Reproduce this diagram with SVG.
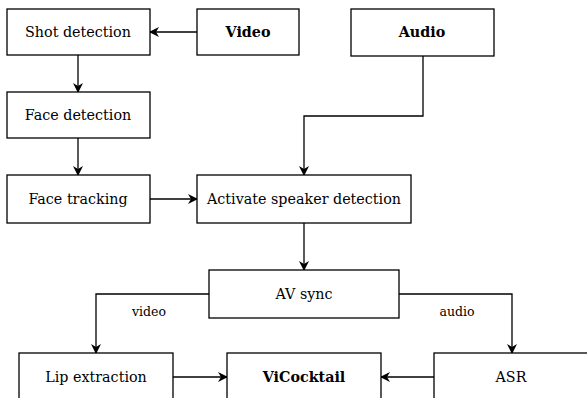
<svg xmlns="http://www.w3.org/2000/svg" width="587" height="398" viewBox="0 0 587 398">
<defs>
<marker id="ah" viewBox="0 0 10 10" refX="9" refY="5" markerWidth="10" markerHeight="10" markerUnits="userSpaceOnUse" orient="auto">
<path d="M0,0 L10,5 L0,10 L3,5 Z" fill="#000"/>
</marker>
<style>
.box{fill:#fff;stroke:#000;stroke-width:1.3}
.t{font-family:"DejaVu Serif","Liberation Serif",serif;font-size:14.3px;fill:#000;text-anchor:middle;dominant-baseline:central}
.b{font-weight:bold}
.l{font-family:"DejaVu Serif","Liberation Serif",serif;font-size:12.5px;fill:#000;text-anchor:middle;dominant-baseline:central}
.c{fill:none;stroke:#000;stroke-width:1.3;marker-end:url(#ah)}
</style>
</defs>
<rect width="587" height="398" fill="#fff"/>
<g id="connectors">
<path class="c" d="M197,32 H150"/>
<path class="c" d="M78,55 V92"/>
<path class="c" d="M78,138 V175"/>
<path class="c" d="M150,199 H197"/>
<path class="c" d="M423,56 V116 H304 V175"/>
<path class="c" d="M304,223 V270"/>
<path class="c" d="M209,294 H96 V353"/>
<path class="c" d="M399,294 H512 V353"/>
<path class="c" d="M173,377 H227"/>
<path class="c" d="M434,377 H381"/>
<text class="l" x="149" y="311">video</text>
<text class="l" x="457" y="311">audio</text>
</g>
<g id="shot"><rect class="box" x="7" y="9" width="143" height="46"/><text class="t" x="78" y="32">Shot detection</text></g>
<g id="video"><rect class="box" x="197" y="9" width="102" height="46"/><text class="t b" x="248" y="32">Video</text></g>
<g id="audio"><rect class="box" x="351" y="9" width="143" height="47"/><text class="t b" x="422" y="32">Audio</text></g>
<g id="face"><rect class="box" x="7" y="92" width="143" height="46"/><text class="t" x="78" y="115">Face detection</text></g>
<g id="tracking"><rect class="box" x="7" y="175" width="143" height="48"/><text class="t" x="78" y="199">Face tracking</text></g>
<g id="asd"><rect class="box" x="197" y="175" width="214" height="48"/><text class="t" x="304" y="199">Activate speaker detection</text></g>
<g id="avsync"><rect class="box" x="209" y="270" width="190" height="48"/><text class="t" x="304" y="294">AV sync</text></g>
<g id="lip"><rect class="box" x="19" y="353" width="154" height="48"/><text class="t" x="96" y="377">Lip extraction</text></g>
<g id="vicocktail"><rect class="box" x="227" y="353" width="154" height="48"/><text class="t b" x="304" y="377">ViCocktail</text></g>
<g id="asr"><rect class="box" x="434" y="353" width="154" height="48"/><text class="t" x="511" y="377">ASR</text></g>
</svg>
